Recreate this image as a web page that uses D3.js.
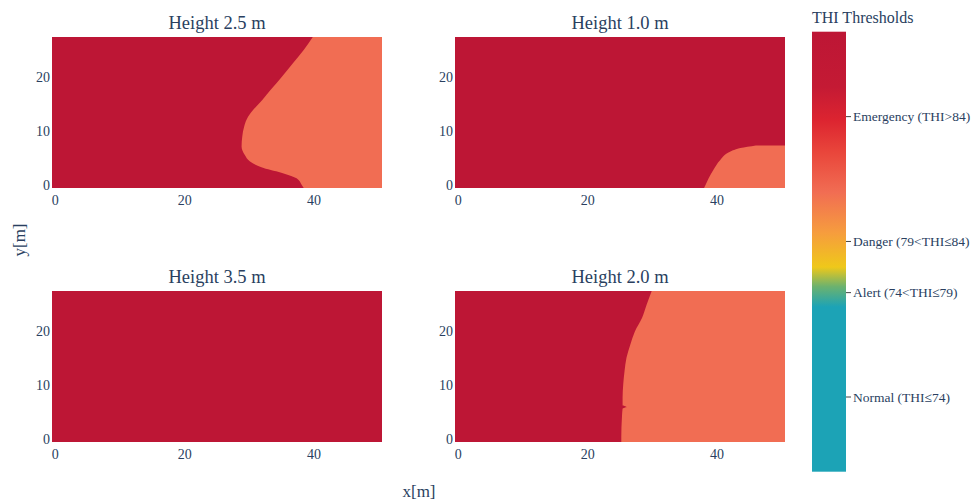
<!DOCTYPE html>
<html>
<head>
<meta charset="utf-8">
<script src="https://cdn.jsdelivr.net/npm/d3@7"></script>
<style>
  body { margin: 0; background: #fff; }
  text { font-family: "Liberation Serif", "Times New Roman", serif; fill: #2a3f5f; }
</style>
</head>
<body>
<svg id="chart" width="976" height="502"></svg>
<script>
// titles of the four maps, left to right, top to bottom
var titles = ["Height 2.5 m", "Height 1.0 m", "Height 3.5 m", "Height 2.0 m"];
var xTicks = [0, 20, 40];
var yTicks = [0, 10, 20];

// THI level of the two zones that appear in the maps
var thiHigh = 102;
var thiLow = 86.3;

// edge of the lower (orange) zone: [y, x where the zone starts]
var edge25 = [[-0.5, 38.4], [0.05, 38.1], [1.3, 37.3], [2.2, 35.3], [3.2, 32.2], [4.4, 30.1], [5.6, 29.3],
  [7.2, 28.8], [9.0, 28.9], [10.9, 29.2], [12.7, 29.8], [14.0, 30.6], [15.8, 32.0], [17.7, 33.3],
  [20.1, 35.0], [22.6, 36.7], [25.1, 38.4], [27.5, 39.8]];
var edge10 = [[-0.5, 38.0], [0, 38.2], [1.3, 38.7], [2.8, 39.4], [4.7, 40.5], [6.2, 42.0],
  [6.9, 43.6], [7.4, 46.0]];
var edge35 = [];
var edge20 = [[-0.5, 25.2], [0.4, 25.2], [4.1, 25.3], [5.7, 25.4], [6.0, 26.0], [6.3, 25.4], [7.7, 25.4],
  [10.2, 25.5], [12.6, 25.7], [15.1, 26.0], [17.6, 26.6], [20.0, 27.3], [22.5, 28.4], [24.9, 29.1],
  [27.5, 29.9]];
var edges = [edge25, edge10, edge35, edge20];

// colour scale of THI
var thiStops = [59, 75.1, 77.1, 79.0, 82.4, 86.3, 90.2, 93.4, 96.6, 102];
var thiColors = ["#1ca3b6", "#1ca3b6", "#6cb26e", "#efc81a", "#f69c3e", "#f16d53", "#e9463b", "#dc2430", "#c41a34", "#bd1635"];
var legendTicks = [66.3, 76.5, 81.5, 93.7];
var legendLabels = ["Normal (THI\u226474)", "Alert (74<THI\u226479)", "Danger (79<THI\u226484)", "Emergency (THI>84)"];

var svg = d3.select("#chart");
var color = d3.scaleLinear().domain(thiStops).range(thiColors);

var pw = 330, ph = 151;
var lefts = [52, 455], tops = [37, 291];

var x = d3.scaleLinear().domain([-0.5, 50.5]).range([0, pw]);
var y = d3.scaleLinear().domain([-0.5, 27.5]).range([ph, 0]);

var zone = d3.area()
  .curve(d3.curveMonotoneY)
  .y(function(d) { return y(d[0]); })
  .x0(function(d) { return x(d[1]); })
  .x1(x(50.5));

titles.forEach(function(t, i) {
  var g = svg.append("g")
    .attr("transform", "translate(" + lefts[i % 2] + "," + tops[Math.floor(i / 2)] + ")");

  g.append("clipPath").attr("id", "clip" + i)
    .append("rect").attr("width", pw).attr("height", ph);

  g.append("rect")
    .attr("x", x(-0.5)).attr("y", y(27.5))
    .attr("width", x(50.5) - x(-0.5)).attr("height", y(-0.5) - y(27.5))
    .attr("fill", color(thiHigh));

  if (edges[i].length) {
    g.append("path")
      .attr("clip-path", "url(#clip" + i + ")")
      .attr("d", zone(edges[i]))
      .attr("fill", color(thiLow));
  }

  g.append("text")
    .attr("x", pw / 2).attr("y", -8)
    .attr("text-anchor", "middle")
    .style("font-size", "18.5px")
    .text(t);

  g.selectAll(".xt").data(xTicks).enter().append("text")
    .attr("x", function(d) { return x(d); })
    .attr("y", ph + 17)
    .attr("text-anchor", "middle")
    .style("font-size", "14px")
    .text(function(d) { return d; });

  g.selectAll(".yt").data(yTicks).enter().append("text")
    .attr("x", -2)
    .attr("y", function(d) { return y(d); })
    .attr("dy", "0.35em")
    .attr("text-anchor", "end")
    .style("font-size", "14px")
    .text(function(d) { return d; });
});

// axis titles
svg.append("text")
  .attr("transform", "translate(25,240) rotate(-90)")
  .attr("text-anchor", "middle")
  .style("font-size", "17px")
  .text("y[m]");

svg.append("text")
  .attr("x", 419).attr("y", 497)
  .attr("text-anchor", "middle")
  .style("font-size", "17px")
  .text("x[m]");

// colour bar
var cbX = 812, cbW = 34, cbTop = 31.7, cbBottom = 471.7;
var cy = d3.scaleLinear().domain([thiStops[0], thiStops[thiStops.length - 1]]).range([cbBottom, cbTop]);

var grad = svg.append("defs").append("linearGradient")
  .attr("id", "thiGrad")
  .attr("x1", 0).attr("y1", 1).attr("x2", 0).attr("y2", 0);
grad.selectAll("stop").data(thiStops).enter().append("stop")
  .attr("offset", function(d) { return (d - thiStops[0]) / (thiStops[thiStops.length - 1] - thiStops[0]); })
  .attr("stop-color", function(d) { return color(d); });

svg.append("rect")
  .attr("x", cbX).attr("y", cbTop)
  .attr("width", cbW).attr("height", cbBottom - cbTop)
  .attr("fill", "url(#thiGrad)");

svg.append("text")
  .attr("x", cbX).attr("y", 23)
  .style("font-size", "16px")
  .text("THI Thresholds");

var lt = svg.selectAll(".lt").data(legendTicks).enter().append("g")
  .attr("transform", function(d) { return "translate(" + (cbX + cbW) + "," + cy(d) + ")"; });
lt.append("line").attr("x1", 0).attr("x2", 5).attr("stroke", "#444").attr("stroke-width", 1);
lt.append("text")
  .attr("x", 7).attr("dy", "0.35em")
  .style("font-size", "13.5px")
  .text(function(d, i) { return legendLabels[i]; });
</script>
</body>
</html>
